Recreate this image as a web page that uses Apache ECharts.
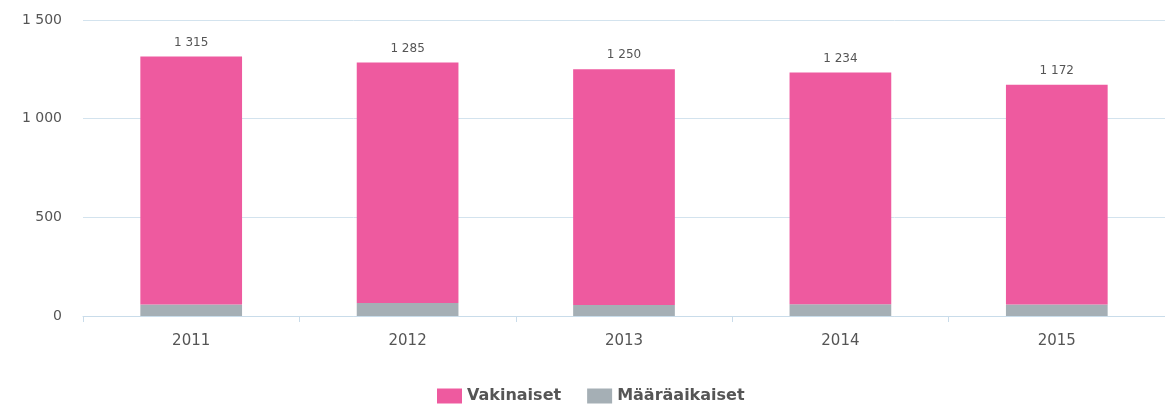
<!DOCTYPE html>
<html>
<head>
<meta charset="utf-8">
<script src="https://cdn.jsdelivr.net/npm/echarts@6/dist/echarts.min.js"></script>
<style>
html, body { margin: 0; padding: 0; background: #fff; }
#chart { width: 1165px; height: 416px; }
</style>
</head>
<body>
<div id="chart"></div>
<script>
// data
var years = ['2011', '2012', '2013', '2014', '2015'];
var totals = [1315, 1285, 1250, 1234, 1172];
var maaraaikaiset = [58, 66, 56, 60, 58];
var vakinaiset = [1257, 1219, 1194, 1174, 1114];
var yTicks = [0, 500, 1000, 1500];

function fmt(v) {
    return String(v).replace(/\B(?=(\d{3})+(?!\d))/g, ' ');
}

var chart = echarts.init(document.getElementById('chart'));

var option = {
    animation: false,
    textStyle: { fontFamily: 'DejaVu Sans, sans-serif' },
    grid: {
        left: 83,
        top: 20,
        width: 1088,
        height: 296
    },
    legend: {
        bottom: 7,
        left: 432,
        itemWidth: 25,
        itemHeight: 15,
        itemGap: 26,
        icon: 'rect',
        textStyle: { color: '#555', fontSize: 16, fontWeight: 'bold' },
        data: ['Vakinaiset', 'Määräaikaiset']
    },
    xAxis: {
        type: 'category',
        data: years,
        axisLine: { lineStyle: { color: '#c9dcea' } },
        axisTick: { show: true, length: 6, lineStyle: { color: '#c9dcea' } },
        axisLabel: { color: '#555', fontSize: 15, margin: 18 }
    },
    yAxis: {
        type: 'value',
        min: yTicks[0],
        max: yTicks[yTicks.length - 1],
        interval: 500,
        axisLine: { show: false },
        axisTick: { show: false },
        splitLine: { lineStyle: { color: '#d3e3ee' } },
        axisLabel: {
            color: '#555',
            fontSize: 14,
            margin: 21,
            formatter: function (v) { return fmt(v); }
        }
    },
    series: [
        {
            name: 'Määräaikaiset',
            type: 'bar',
            stack: 'total',
            barWidth: '47%',
            itemStyle: { color: '#a5afb5' },
            data: maaraaikaiset
        },
        {
            name: 'Vakinaiset',
            type: 'bar',
            stack: 'total',
            barWidth: '47%',
            itemStyle: { color: '#ee5a9f' },
            label: {
                show: true,
                position: 'top',
                distance: 8,
                color: '#555',
                fontSize: 12,
                formatter: function (p) { return fmt(totals[p.dataIndex]); }
            },
            data: vakinaiset
        }
    ]
};

chart.setOption(option);
window.addEventListener('resize', function () {
    chart.resize();
});
</script>
</body>
</html>
